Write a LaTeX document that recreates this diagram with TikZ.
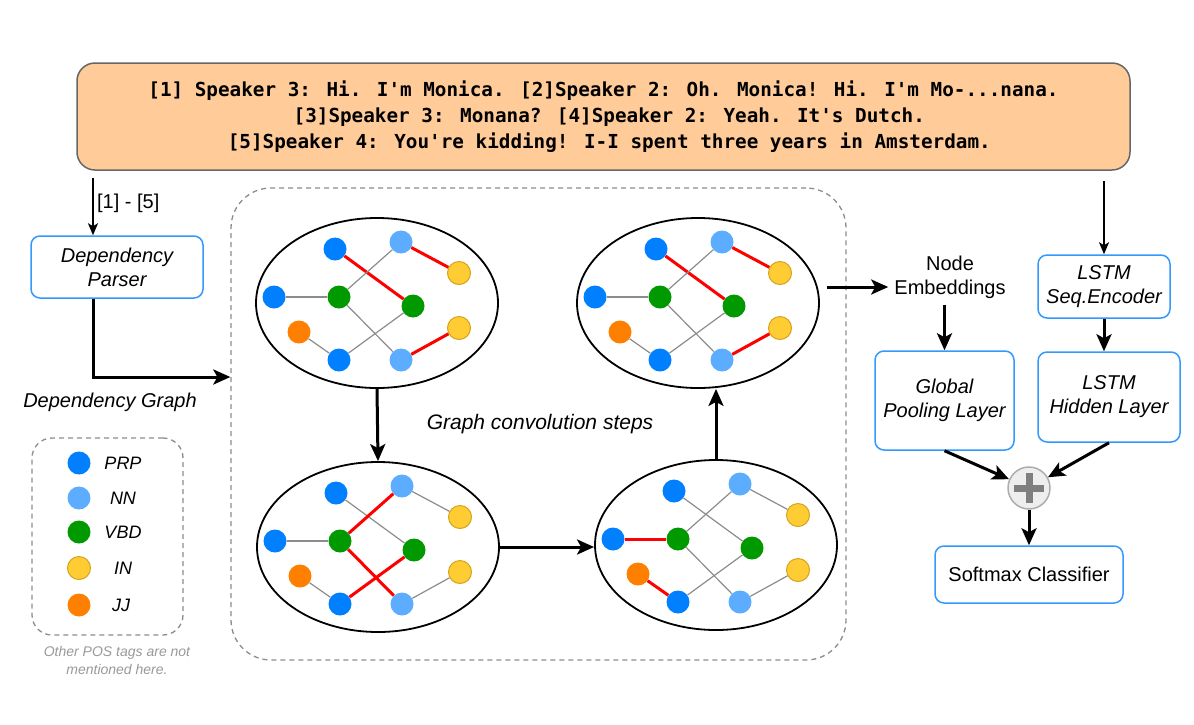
\documentclass[tikz,border=0pt]{standalone}
\usepackage{fontspec}
\setmainfont{Liberation Sans}
\newfontfamily\talkfont{DejaVu Sans Mono}
\usepackage{tikz}
\usetikzlibrary{positioning,shapes.geometric,arrows.meta}
\definecolor{talkfill}{HTML}{FFCC99}
\definecolor{talkline}{HTML}{666666}
\definecolor{boxblue}{HTML}{3399FF}
\definecolor{prpblue}{HTML}{007FFF}
\definecolor{nnblue}{HTML}{5CACFF}
\definecolor{vbdgreen}{HTML}{009900}
\definecolor{inyellow}{HTML}{FFCC33}
\definecolor{inborder}{HTML}{D6A21A}
\definecolor{jjorange}{HTML}{FF8000}
\definecolor{dashgray}{HTML}{8C8C8C}
\definecolor{edgegray}{HTML}{8C8C8C}
\definecolor{notegray}{HTML}{999999}
\definecolor{plusfill}{HTML}{EEEEEE}
\definecolor{plusline}{HTML}{ADADAD}
\definecolor{plusbar}{HTML}{7F7F7F}
\tikzstyle{talk} = [draw=talkline, fill=talkfill, line width=1.5pt, rounded corners=18pt, minimum width=1053pt, minimum height=107pt, align=center, font=\talkfont\bfseries\fontsize{19.3}{26}\selectfont]
\tikzstyle{layer} = [draw=boxblue, fill=white, line width=1.5pt, rounded corners=9pt, align=center, inner sep=0pt, font=\itshape\fontsize{20}{24}\selectfont]
\tikzstyle{dashbox} = [draw=dashgray, dash pattern=on 5pt off 4pt, line width=1.3pt, inner sep=0pt]
\tikzstyle{graphbox} = [draw, ellipse, line width=1.8pt, minimum width=242pt, minimum height=170pt, inner sep=0pt]
\tikzstyle{tag} = [circle, minimum size=23pt, inner sep=0pt]
\tikzstyle{tagprp} = [tag, fill=prpblue]
\tikzstyle{tagnn} = [tag, fill=nnblue]
\tikzstyle{tagvbd} = [tag, fill=vbdgreen]
\tikzstyle{tagin} = [tag, fill=inyellow, draw=inborder, line width=1pt]
\tikzstyle{tagjj} = [tag, fill=jjorange]
\tikzstyle{tagname} = [font=\itshape\fontsize{18}{22}\selectfont]
\tikzstyle{gedge} = [draw=edgegray, line width=1.2pt]
\tikzstyle{redge} = [draw=red, line width=3pt]
\tikzstyle{bigarrow} = [line width=3pt, -{Stealth[length=17pt,width=15pt,inset=4pt]}]
\tikzstyle{thinarrow} = [line width=1.6pt, -{Stealth[length=12pt,width=10pt,inset=3pt]}]
\newcommand{\posgraph}[9]{%
  \node[tagprp] (#1a) at (-42,-54) {};
  \node[tagnn]  (#1b) at (24,-61) {};
  \node[tagin]  (#1c) at (82,-30) {};
  \node[tagprp] (#1d) at (-103,-6) {};
  \node[tagvbd] (#1e) at (-38,-6) {};
  \node[tagvbd] (#1f) at (36,3) {};
  \node[tagjj]  (#1g) at (-78,29) {};
  \node[tagprp] (#1h) at (-38,57) {};
  \node[tagnn]  (#1i) at (24,57) {};
  \node[tagin]  (#1j) at (82,25) {};
  \draw[#2] (#1a) -- (#1f);
  \draw[#3] (#1b) -- (#1c);
  \draw[#4] (#1d) -- (#1e);
  \draw[#5] (#1e) -- (#1b);
  \draw[#6] (#1e) -- (#1i);
  \draw[#7] (#1g) -- (#1h);
  \draw[#8] (#1h) -- (#1f);
  \draw[#9] (#1i) -- (#1j);
}

\begin{document}
\begin{tikzpicture}[x=1pt, y=-1pt]
\useasboundingbox (0,0) rectangle (1194,724);
% utterances
\node[talk] (talk) at (603.5,116.5) {[1] Speaker 3: Hi. I'm Monica. [2]Speaker 2: Oh. Monica! Hi. I'm Mo-...nana.\\{}
[3]Speaker 3: Monana? [4]Speaker 2: Yeah. It's Dutch.\\{}
[5]Speaker 4: You're kidding! I-I spent three years in Amsterdam.};
% parser and graph
\node[layer, minimum width=172pt, minimum height=62pt] (parser) at (117,267) {Dependency\\Parser};
\node[font=\itshape\fontsize{20}{24}\selectfont] (depgraph) at (110,402) {Dependency Graph};
\node[dashbox, rounded corners=40pt, minimum width=615pt, minimum height=472pt] (gcn) at (538.5,424) {};
\node[graphbox] (tl) at (377,303) {};
\node[graphbox] (tr) at (698,303) {};
\node[graphbox] (bl) at (378,547) {};
\node[graphbox] (br) at (716,545) {};
\begin{scope}[shift={(377,303)}]
\posgraph{tl}{redge}{redge}{gedge}{gedge}{gedge}{gedge}{gedge}{redge}
\end{scope}
\begin{scope}[shift={(698,303)}]
\posgraph{tr}{redge}{redge}{gedge}{gedge}{gedge}{gedge}{gedge}{redge}
\end{scope}
\begin{scope}[shift={(378,547)}]
\posgraph{bl}{gedge}{gedge}{gedge}{redge}{redge}{gedge}{redge}{gedge}
\end{scope}
\begin{scope}[shift={(716,545)}]
\posgraph{br}{gedge}{gedge}{redge}{gedge}{gedge}{redge}{gedge}{gedge}
\end{scope}
\node[font=\itshape\fontsize{21}{24}\selectfont] (steps) at (540,424) {Graph convolution steps};
% legend
\node[dashbox, rounded corners=20pt, minimum width=151pt, minimum height=197pt] (legend) at (107.5,536.5) {};
\node[tagprp] (kprp) at (79,463) {};
\node[tagnn] (knn) at (79,498) {};
\node[tagvbd] (kvbd) at (79,532) {};
\node[tagin] (kin) at (79,568) {};
\node[tagjj] (kjj) at (79,605) {};
\node[tagname] at (123,463) {PRP};
\node[tagname] at (123,498) {NN};
\node[tagname] at (123,532) {VBD};
\node[tagname] at (123,568) {IN};
\node[tagname] at (121,605) {JJ};
\node[align=center, text=notegray, font=\itshape\fontsize{14}{18}\selectfont] (note) at (117,660) {Other POS tags are not\\mentioned here.};
% right side
\node[align=center, inner sep=6pt, font=\fontsize{20}{24}\selectfont] (embed) at (950,277) {Node\\Embeddings};
\node[layer, minimum width=139pt, minimum height=99pt] (pool) at (944.5,400.5) {Global\\Pooling Layer};
\node[layer, minimum width=132pt, minimum height=63pt] (seq) at (1104,286.5) {LSTM\\Seq.Encoder};
\node[layer, minimum width=142pt, minimum height=90pt] (hidden) at (1109,397) {LSTM\\Hidden Layer};
\node[circle, draw=plusline, fill=plusfill, line width=1.5pt, minimum size=42pt, inner sep=0pt] (plus) at (1029,488) {};
\draw[plusbar, line width=7pt] ([xshift=-15pt]plus.center) -- ([xshift=15pt]plus.center);
\draw[plusbar, line width=7pt] ([yshift=-15pt]plus.center) -- ([yshift=15pt]plus.center);
\node[layer, minimum width=188pt, minimum height=57pt, font=\fontsize{20}{24}\selectfont] (softmax) at (1029,574.5) {Softmax Classifier};
% connectors
\draw[thinarrow, shorten <=7pt] ([xshift=-24pt]parser.north |- talk.south) -- node[right, font=\fontsize{20}{24}\selectfont] {[1] - [5]} ([xshift=-24pt]parser.north);
\draw[bigarrow] ([xshift=-24pt]parser.south) |- ([yshift=47pt]gcn.west);
\draw[bigarrow] (tl.south) -- (bl.north);
\draw[bigarrow] (bl.east) -- (bl.east -| br.west);
\draw[bigarrow] (br.north) -- (br.north |- tr.south);
\draw[bigarrow] ([xshift=7pt,yshift=16pt]tr.east) -- ([yshift=16pt]tr.east -| embed.west);
\draw[bigarrow] (embed.south -| pool.north) -- (pool.north);
\draw[thinarrow, shorten <=10pt] (talk.south -| seq.north) -- (seq.north);
\draw[bigarrow] (seq.south) -- (seq.south |- hidden.north);
\draw[bigarrow] (pool.south) -- (plus);
\draw[bigarrow] (hidden.south) -- (plus);
\draw[bigarrow] (plus) -- (softmax);
\end{tikzpicture}
\end{document}
